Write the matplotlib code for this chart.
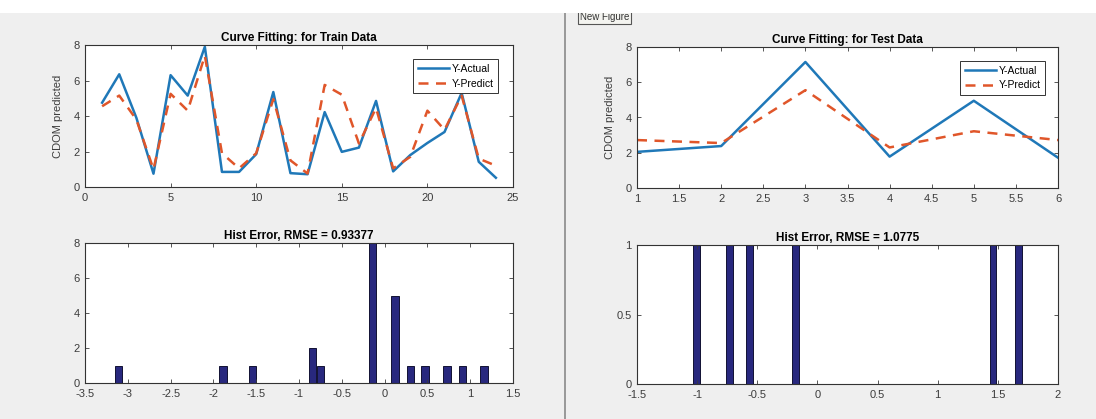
import matplotlib
matplotlib.use('Agg')
import matplotlib.pyplot as plt
from matplotlib.patches import Rectangle
import numpy as np

# train curve fitting (sample index 1..24)
train_idx = np.arange(1, 25)
train_actual = [4.75, 6.35, 3.9, 0.75, 6.3, 5.15, 7.9, 0.85, 0.85, 1.85, 5.35, 0.78,
                0.72, 4.22, 1.98, 2.22, 4.85, 0.88, 1.8, 2.48, 3.1, 5.3, 1.42, 0.52]
train_predict = [4.55, 5.15, 3.8, 1.0, 5.25, 4.3, 7.4, 1.9, 1.05, 1.9, 4.95, 1.5,
                 0.76, 5.75, 5.2, 2.45, 4.45, 1.05, 1.7, 4.3, 3.22, 5.15, 1.6, 1.2]

# test curve fitting (sample index 1..6)
test_idx = np.arange(1, 7)
test_actual = [2.05, 2.38, 7.15, 1.78, 4.95, 1.72]
test_predict = [2.72, 2.55, 5.55, 2.3, 3.22, 2.72]

# error histograms (bin centres / counts)
train_err_centers = [-3.11, -1.89, -1.54, -0.84, -0.75, -0.14, 0.12, 0.30, 0.47, 0.73, 0.91, 1.16]
train_err_counts = [1, 1, 1, 2, 1, 8, 5, 1, 1, 1, 1, 1]
train_bin_w = 0.087
test_err_centers = [-1.005, -0.732, -0.567, -0.183, 1.458, 1.673]
test_err_counts = [1, 1, 1, 1, 1, 1]
test_bin_w = 0.0547

train_rmse = 0.93377
test_rmse = 1.0775

blue = '#1f78b8'
red = '#e0562a'
bar_col = '#28287e'
tick_col = '#3c3c3c'

plt.rcParams['font.family'] = ['Liberation Sans', 'DejaVu Sans']
plt.rcParams['font.size'] = 8

W, H = 1096, 419
fig = plt.figure(figsize=(W / 100, H / 100), dpi=100, facecolor='#efefef')


def px_axes(l, t, r, b):
    ax = fig.add_axes([l / W, 1 - b / H, (r - l) / W, (b - t) / H])
    ax.tick_params(direction='in', top=True, right=True, length=3, width=0.6,
                   colors=tick_col, labelsize=8, pad=4)
    for s in ax.spines.values():
        s.set_color('#333333')
        s.set_linewidth(0.8)
    return ax


def fmt(v):
    return ('%g' % v)


def curve_panel(ax, x, ya, yp, title, xlim, xticks, leg_anchor):
    ax.plot(x, ya, color=blue, lw=1.8, label='Y-Actual')
    ax.plot(x, yp, color=red, lw=1.8, ls=(0, (4, 3)), label='Y-Predict')
    ax.set_xlim(*xlim)
    ax.set_ylim(0, 8)
    ax.set_xticks(xticks)
    ax.set_xticklabels([fmt(v) for v in xticks])
    ax.set_yticks([0, 2, 4, 6, 8])
    ax.set_ylabel('CDOM predicted', color=tick_col, fontsize=8, labelpad=7)
    ax.set_title(title, fontsize=8.5, fontweight='bold', pad=3)
    leg = ax.legend(loc='upper right', bbox_to_anchor=leg_anchor, borderaxespad=0,
                    fancybox=False, framealpha=1, edgecolor='#333333', fontsize=7.5,
                    handlelength=3.0, borderpad=0.45, labelspacing=0.45,
                    handletextpad=0.2)
    leg.get_frame().set_linewidth(0.7)


def hist_panel(ax, centers, counts, w, title, xlim, xticks, ylim, yticks):
    ax.bar(centers, counts, width=w, color=bar_col, edgecolor='#111133', linewidth=0.7)
    ax.set_xlim(*xlim)
    ax.set_ylim(*ylim)
    ax.set_xticks(xticks)
    ax.set_xticklabels([fmt(v) for v in xticks])
    ax.set_yticks(yticks)
    ax.set_yticklabels([fmt(v) for v in yticks])
    ax.set_title(title, fontsize=8.5, fontweight='bold', pad=3)


ax1 = px_axes(85, 45, 513, 187)
curve_panel(ax1, train_idx, train_actual, train_predict,
            'Curve Fitting: for Train Data', (0, 25), np.arange(0, 26, 5), (0.965, 0.90))

ax2 = px_axes(637, 47, 1058, 188)
curve_panel(ax2, test_idx, test_actual, test_predict,
            'Curve Fitting: for Test Data', (1, 6), np.arange(1, 6.01, 0.5), (0.969, 0.90))

ax3 = px_axes(85, 243, 513, 383)
hist_panel(ax3, train_err_centers, train_err_counts, train_bin_w,
           'Hist Error, RMSE = %g' % train_rmse, (-3.5, 1.5),
           np.arange(-3.5, 1.51, 0.5), (0, 8), [0, 2, 4, 6, 8])

ax4 = px_axes(637, 245, 1058, 384)
hist_panel(ax4, test_err_centers, test_err_counts, test_bin_w,
           'Hist Error, RMSE = %g' % test_rmse, (-1.5, 2),
           np.arange(-1.5, 2.01, 0.5), (0, 1), [0, 0.5, 1])

# window divider and the half hidden "New Figure" button
fig.add_artist(plt.Line2D([565 / W, 565 / W], [0, 1 - 13 / H], color='#8a8a8a', lw=1.2))
fig.text(580 / W, 1 - 17 / H, 'New Figure', fontsize=7, color='#333333', va='center',
         bbox=dict(boxstyle='square,pad=0.2', fc='#f4f4f0', ec='#555555', lw=0.8))
fig.add_artist(Rectangle((0, 1 - 13 / H), 1, 13 / H, transform=fig.transFigure,
                         facecolor='white', edgecolor='none', zorder=10))

fig.savefig('out.png', dpi=100, facecolor=fig.get_facecolor())
